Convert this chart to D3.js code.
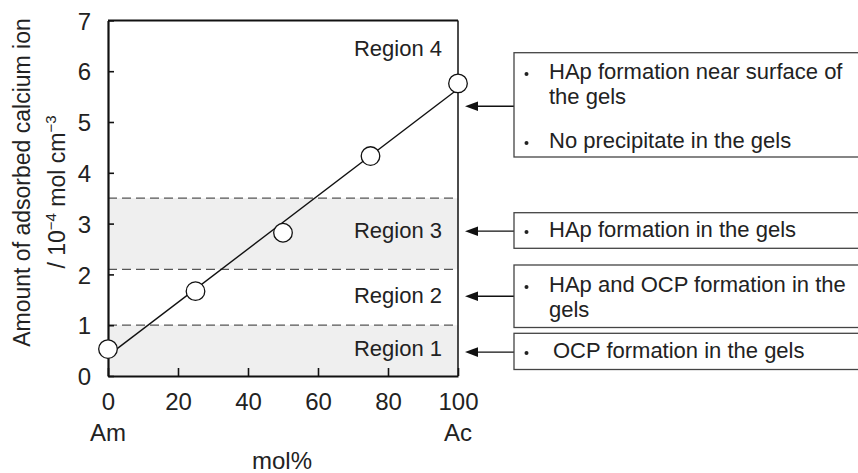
<!DOCTYPE html>
<html>
<head>
<meta charset="utf-8">
<script src="https://cdn.jsdelivr.net/npm/d3@7"></script>
<style>
  body { margin: 0; background: #fff; }
  svg { display: block; font-family: "Liberation Sans", Arial, sans-serif; }
</style>
</head>
<body>
<div id="chart"></div>
<script>
// data
const molPct = [0, 25, 50, 75, 100];
const calcium = [0.53, 1.67, 2.82, 4.33, 5.76];
const fitX = [0, 100];
const fitY = [0.40, 5.65];
const xTicks = [0, 20, 40, 60, 80, 100];
const yTicks = [0, 1, 2, 3, 4, 5, 6, 7];
const boundaries = [1.0, 2.1, 3.5];
const shadedBands = [[0, 1.0], [2.1, 3.5]];
const regionNames = ["Region 4", "Region 3", "Region 2", "Region 1"];
const regionLabelY = [6.45, 2.87, 1.59, 0.55];
const regionArrowY = [5.31, 2.85, 1.57, 0.47];
const notes = [
  [["HAp formation near surface of", "the gels"], ["No precipitate in the gels"]],
  [["HAp formation in the gels"]],
  [["HAp and OCP formation in the", "gels"]],
  [["OCP formation in the gels"]]
];

var width = 858, height = 473;
var x = d3.scaleLinear().domain([0, 100]).range([108, 458]);
var y = d3.scaleLinear().domain([0, 7]).range([376, 20.4]);

var svg = d3.select("#chart").append("svg")
    .attr("width", width)
    .attr("height", height);

// shaded bands
svg.append("g").selectAll("rect")
  .data(shadedBands)
  .enter().append("rect")
    .attr("x", x(0))
    .attr("y", d => y(d[1]))
    .attr("width", x(100) - x(0))
    .attr("height", d => y(d[0]) - y(d[1]))
    .attr("fill", "#efefef");

// dashed region boundaries
svg.append("g")
    .attr("stroke", "#555")
    .attr("stroke-width", 1.3)
    .attr("stroke-dasharray", "9,5")
  .selectAll("line")
  .data(boundaries)
  .enter().append("line")
    .attr("x1", x(0)).attr("x2", x(100))
    .attr("y1", d => y(d)).attr("y2", d => y(d));

// frame
svg.append("line").attr("x1", x(0)).attr("x2", x(100)).attr("y1", y(7)).attr("y2", y(7))
    .attr("stroke", "#111").attr("stroke-width", 2);
svg.append("line").attr("x1", x(100)).attr("x2", x(100)).attr("y1", y(7)).attr("y2", y(0))
    .attr("stroke", "#111").attr("stroke-width", 1.5);

var xAxis = svg.append("g")
    .attr("transform", `translate(0,${y(0)})`)
    .call(d3.axisBottom(x).tickValues(xTicks).tickFormat(d3.format("d"))
      .tickSizeInner(-8).tickSizeOuter(0));
var yAxis = svg.append("g")
    .attr("transform", `translate(${x(0)},0)`)
    .call(d3.axisLeft(y).tickValues(yTicks).tickFormat(d3.format("d"))
      .tickSizeInner(-6).tickSizeOuter(0));

[xAxis, yAxis].forEach(function(a) {
  a.select(".domain").attr("stroke", "#111").attr("stroke-width", 2.2);
  a.selectAll(".tick line").attr("stroke", "#111").attr("stroke-width", 1.6);
  a.selectAll(".tick text")
      .attr("fill", "#222")
      .style("font-size", "24px")
      .style("font-family", "'Liberation Sans', Arial, sans-serif");
});
xAxis.selectAll(".tick text").attr("dy", null).attr("y", 34);
yAxis.selectAll(".tick text").attr("x", -17).attr("dy", "0.36em");

// fit line
svg.append("path")
    .datum(fitX.map((d, i) => [d, fitY[i]]))
    .attr("fill", "none")
    .attr("stroke", "#111")
    .attr("stroke-width", 1.4)
    .attr("d", d3.line().x(d => x(d[0])).y(d => y(d[1])));

// points
svg.append("g").selectAll("circle")
  .data(molPct.map((d, i) => [d, calcium[i]]))
  .enter().append("circle")
    .attr("cx", d => x(d[0]))
    .attr("cy", d => y(d[1]))
    .attr("r", 9.3)
    .attr("fill", "#fff")
    .attr("stroke", "#111")
    .attr("stroke-width", 1.3);

// region labels
svg.append("g")
    .style("font-size", "22px")
    .attr("fill", "#222")
    .attr("text-anchor", "end")
  .selectAll("text")
  .data(regionNames)
  .enter().append("text")
    .attr("x", 442)
    .attr("y", (d, i) => y(regionLabelY[i]))
    .attr("dy", "0.36em")
    .text(d => d);

// arrows from the note boxes to the regions
var boxLeft = 514, tipX = 465;
var arrows = svg.append("g").selectAll("g")
  .data(regionArrowY)
  .enter().append("g");
arrows.append("line")
    .attr("x1", boxLeft).attr("x2", tipX + 8)
    .attr("y1", d => y(d)).attr("y2", d => y(d))
    .attr("stroke", "#111")
    .attr("stroke-width", 1.3);
arrows.append("path")
    .attr("d", d => `M${tipX},${y(d)}L${tipX + 13},${y(d) - 4.8}L${tipX + 13},${y(d) + 4.8}Z`)
    .attr("fill", "#111");

// note boxes
var boxTops = [52.7, 212.7, 265, 333.3];
var boxBottoms = [157, 248.3, 327.5, 369.5];
var firstBaseline = [79, 237, 292, 358];
var lineGap = 25, itemGap = 19;

notes.forEach(function(items, i) {
  var g = svg.append("g");
  g.append("rect")
      .attr("x", boxLeft)
      .attr("y", boxTops[i])
      .attr("width", 400)
      .attr("height", boxBottoms[i] - boxTops[i])
      .attr("fill", "#fff")
      .attr("stroke", "#444")
      .attr("stroke-width", 1.3);
  var base = firstBaseline[i];
  items.forEach(function(lines) {
    g.append("circle")
        .attr("cx", 526.5)
        .attr("cy", base - 5)
        .attr("r", 2)
        .attr("fill", "#222");
    lines.forEach(function(line, k) {
      g.append("text")
          .attr("x", i === 3 ? 553 : 549)
          .attr("y", base + k * lineGap)
          .attr("fill", "#222")
          .style("font-size", "22px")
          .text(line);
    });
    base += lines.length * lineGap + itemGap;
  });
});

// axis titles
svg.append("text")
    .attr("transform", "translate(30,182.5) rotate(-90)")
    .attr("text-anchor", "middle")
    .attr("fill", "#222")
    .style("font-size", "23px")
    .text("Amount of adsorbed calcium ion");

var t2 = svg.append("text")
    .attr("transform", "translate(65,192) rotate(-90)")
    .attr("text-anchor", "middle")
    .attr("fill", "#222")
    .style("font-size", "23px");
t2.append("tspan").text("/ 10");
t2.append("tspan").attr("dy", -9).style("font-size", "15px").text("\u22124");
t2.append("tspan").attr("dy", 9).text(" mol cm");
t2.append("tspan").attr("dy", -9).style("font-size", "15px").text("\u22123");

svg.append("g")
    .style("font-size", "24px")
    .attr("fill", "#222")
    .attr("text-anchor", "middle")
  .selectAll("text")
  .data([[0, "Am"], [100, "Ac"]])
  .enter().append("text")
    .attr("x", d => x(d[0]))
    .attr("y", 441)
    .text(d => d[1]);

svg.append("text")
    .attr("x", 282)
    .attr("y", 469)
    .attr("text-anchor", "middle")
    .attr("fill", "#222")
    .style("font-size", "24px")
    .text("mol%");
</script>
</body>
</html>
